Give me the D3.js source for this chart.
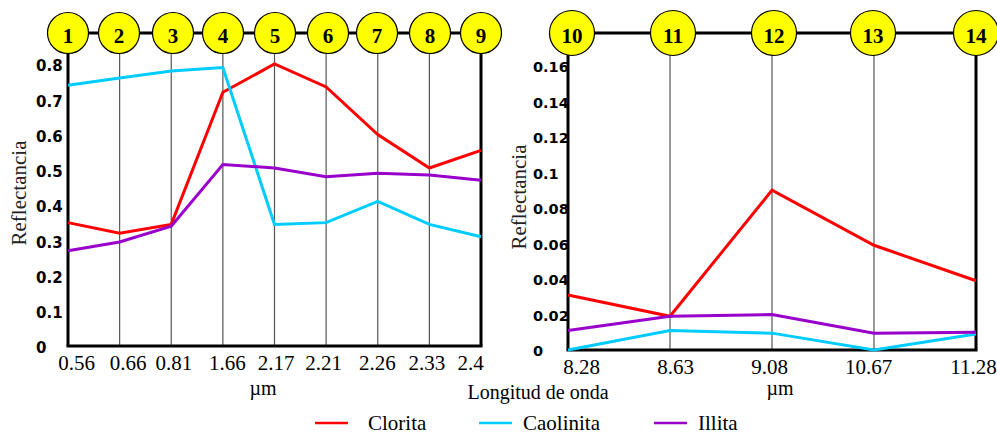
<!DOCTYPE html>
<html>
<head>
<meta charset="utf-8">
<script src="https://cdn.jsdelivr.net/npm/d3@7"></script>
<style>
  body { margin: 0; background: #fff; }
  svg { display: block; }
</style>
</head>
<body>
<div id="chart"></div>
<script>
// Reflectance of clay minerals per band (left: VNIR/SWIR, right: TIR)
var leftBands = ["1", "2", "3", "4", "5", "6", "7", "8", "9"];
var leftWavelengths = ["0.56", "0.66", "0.81", "1.66", "2.17", "2.21", "2.26", "2.33", "2.4"];
var leftClorita = [0.35, 0.32, 0.345, 0.72, 0.80, 0.735, 0.60, 0.505, 0.555];
var leftCaolinita = [0.74, 0.76, 0.78, 0.79, 0.345, 0.35, 0.41, 0.345, 0.31];
var leftIllita = [0.27, 0.295, 0.34, 0.515, 0.505, 0.48, 0.49, 0.485, 0.47];
var leftTicks = [0, 0.1, 0.2, 0.3, 0.4, 0.5, 0.6, 0.7, 0.8];

var rightBands = ["10", "11", "12", "13", "14"];
var rightWavelengths = ["8.28", "8.63", "9.08", "10.67", "11.28"];
var rightClorita = [0.031, 0.019, 0.090, 0.059, 0.039];
var rightCaolinita = [0, 0.011, 0.0095, 0, 0.009];
var rightIllita = [0.011, 0.019, 0.020, 0.0095, 0.010];
var rightTicks = [0, 0.02, 0.04, 0.06, 0.08, 0.1, 0.12, 0.14, 0.16];

var seriesNames = ["Clorita", "Caolinita", "Illita"];
var seriesColors = ["#ff0000", "#00ccff", "#9900cc"];

var W = 997, H = 436;
var svg = d3.select("#chart").append("svg")
    .attr("width", W)
    .attr("height", H);

var serif = "'Liberation Serif', 'Times New Roman', serif";
var sans = "'DejaVu Sans', sans-serif";

function drawPanel(p) {
  var x = d3.scalePoint().domain(p.wavelengths).range([p.x0, p.x1]);
  var y = d3.scaleLinear().domain([0, p.yMax]).range([p.y0, p.yTop]);
  var g = svg.append("g");
  var circleY = 33;

  // vertical band lines
  p.wavelengths.forEach(function(w, i) {
    var edge = (i == 0 || i == p.wavelengths.length - 1);
    g.append("line").attr("x1", x(w)).attr("x2", x(w))
      .attr("y1", circleY).attr("y2", p.y0)
      .attr("stroke", edge ? "#000" : "#555")
      .attr("stroke-width", edge ? 3 : 1.2);
  });
  // bottom axis
  g.append("line").attr("x1", p.x0 - 1.5).attr("x2", p.x1 + 1.5)
    .attr("y1", p.y0).attr("y2", p.y0)
    .attr("stroke", "#000").attr("stroke-width", 3);

  // y tick labels
  g.selectAll(".ytick").data(p.ticks).enter().append("text")
    .attr("x", p.tickX)
    .attr("y", function(d) { return y(d) + p.tickShift; })
    .attr("dy", "0.35em")
    .attr("font-family", sans).attr("font-weight", "bold")
    .attr("font-size", p.tickSize)
    .text(function(d) { return d; });

  // x tick labels (slightly nudged, as in the original figure)
  var xAxis = g.append("g")
    .attr("transform", "translate(0," + (p.y0 + 3) + ")")
    .call(d3.axisBottom(x).tickSize(0).tickPadding(6));
  xAxis.select(".domain").remove();
  xAxis.selectAll("text")
    .attr("font-family", serif).attr("font-size", 21).attr("fill", "#000")
    .attr("dx", function(d, i) { return p.labelNudge[i]; });

  // series lines
  var line = d3.line()
    .x(function(d, i) { return x(p.wavelengths[i]); })
    .y(function(d) { return y(d); });
  p.series.forEach(function(s, k) {
    g.append("path").datum(s)
      .attr("d", line)
      .attr("fill", "none")
      .attr("stroke", seriesColors[k])
      .attr("stroke-width", 3);
  });

  // band circles on top
  g.append("line").attr("x1", p.cx[0]).attr("x2", p.cx[p.cx.length - 1])
    .attr("y1", circleY).attr("y2", circleY)
    .attr("stroke", "#000").attr("stroke-width", 3);
  p.bands.forEach(function(b, i) {
    g.append("circle").attr("cx", p.cx[i]).attr("cy", circleY).attr("r", p.r)
      .attr("fill", "#ffff00").attr("stroke", "#000").attr("stroke-width", 1.2);
    g.append("text").attr("x", p.cx[i]).attr("y", circleY + 3)
      .attr("text-anchor", "middle").attr("dominant-baseline", "central")
      .attr("font-family", serif).attr("font-weight", "bold")
      .attr("font-size", 21)
      .text(b);
  });

  // axis titles
  g.append("text")
    .attr("transform", "translate(" + p.ylabX + "," + p.ylabY + ") rotate(-90)")
    .attr("text-anchor", "middle")
    .attr("font-family", serif).attr("font-size", 21)
    .attr("fill", "#222")
    .text("Reflectancia");
  g.append("text").attr("x", p.umX).attr("y", 395)
    .attr("text-anchor", "middle")
    .attr("font-family", serif).attr("font-size", 20)
    .text("\u00b5m");
}

drawPanel({
  bands: leftBands, wavelengths: leftWavelengths,
  series: [leftClorita, leftCaolinita, leftIllita],
  ticks: leftTicks, yMax: 0.8,
  x0: 68, x1: 481, y0: 346, yTop: 64,
  cx: [68, 119, 173, 223, 275, 328, 377, 430, 481], r: 20.5,
  tickX: 36, tickShift: 2, tickSize: 15,
  labelNudge: [8, 8, 2, 4, 1, -3, -1, -3, -11],
  ylabX: 26, ylabY: 193, umX: 263
});

drawPanel({
  bands: rightBands, wavelengths: rightWavelengths,
  series: [rightClorita, rightCaolinita, rightIllita],
  ticks: rightTicks, yMax: 0.16,
  x0: 568, x1: 976, y0: 350, yTop: 66,
  cx: [572, 673, 774, 873, 976], r: 22.5,
  tickX: 533, tickShift: 1, tickSize: 14.5,
  labelNudge: [13, 5, -3, -6, -3],
  ylabX: 526, ylabY: 197, umX: 780
});

// shared x title
svg.append("text").attr("x", 538).attr("y", 399)
  .attr("text-anchor", "middle")
  .attr("font-family", serif).attr("font-size", 20)
  .text("Longitud de onda");

// legend
var legendX = [315, 479, 654];
seriesNames.forEach(function(n, k) {
  svg.append("line").attr("x1", legendX[k]).attr("x2", legendX[k] + 33)
    .attr("y1", 423).attr("y2", 423)
    .attr("stroke", seriesColors[k]).attr("stroke-width", 2.5);
  svg.append("text").attr("x", legendX[k] + (k == 0 ? 53 : 44)).attr("y", 430)
    .attr("font-family", serif).attr("font-size", 21)
    .text(n);
});
</script>
</body>
</html>
